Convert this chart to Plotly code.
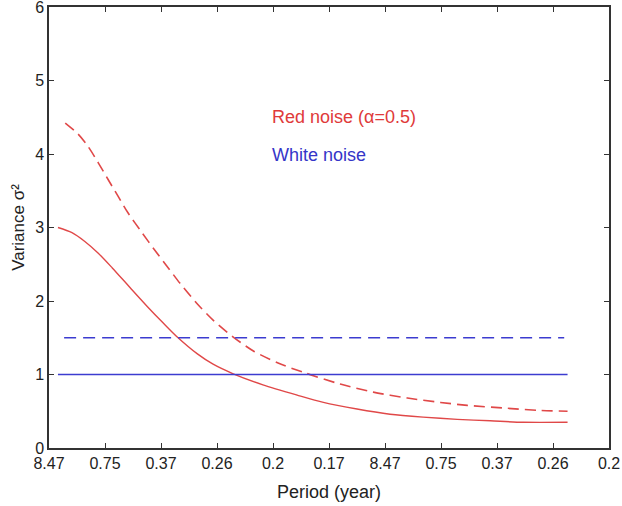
import plotly.graph_objects as go

# x positions are tick indices (0..10); tick labels are the period values
tick_pos = list(range(11))
tick_text = ["8.47", "0.75", "0.37", "0.26", "0.2", "0.17",
             "8.47", "0.75", "0.37", "0.26", "0.2"]

# red noise, solid curve
red_x = [0.16, 0.41, 0.64, 0.88, 1.13, 1.45, 1.75, 2.04, 2.29, 2.65, 2.93,
         3.29, 3.82, 4.43, 4.90, 5.50, 6.09, 6.68, 7.29, 7.88, 8.47, 9.26]
red_y = [3.00, 2.93, 2.81, 2.65, 2.45, 2.18, 1.93, 1.70, 1.51, 1.28, 1.14,
         1.01, 0.86, 0.72, 0.62, 0.53, 0.46, 0.42, 0.39, 0.37, 0.35, 0.35]

# red noise, dashed curve
red_dash_x = [0.29, 0.52, 0.70, 0.88, 1.05, 1.23, 1.41, 1.66, 1.89, 2.13, 2.34,
              2.65, 2.93, 3.29, 3.65, 4.08, 4.54, 5.20, 5.79, 6.40, 6.99,
              7.47, 8.19, 8.78, 9.26]
red_dash_y = [4.42, 4.27, 4.10, 3.88, 3.66, 3.43, 3.20, 2.93, 2.69, 2.45, 2.24,
              1.96, 1.74, 1.51, 1.32, 1.16, 1.03, 0.87, 0.76, 0.68, 0.62,
              0.58, 0.54, 0.51, 0.50]

# white noise levels
white_x = [0.16, 9.26]
white_y = [1.0, 1.0]
white_dash_x = [0.27, 9.20]
white_dash_y = [1.5, 1.5]

RED = "#e04848"
BLUE = "#3c3cd0"
AXIS = "#333333"

fig = go.Figure()
fig.add_trace(go.Scatter(x=red_dash_x, y=red_dash_y, mode="lines",
                         line=dict(color=RED, width=1.6, dash="11px,6px",
                                   shape="spline", smoothing=0.8)))
fig.add_trace(go.Scatter(x=red_x, y=red_y, mode="lines",
                         line=dict(color=RED, width=1.4,
                                   shape="spline", smoothing=0.8)))
fig.add_trace(go.Scatter(x=white_dash_x, y=white_dash_y, mode="lines",
                         line=dict(color=BLUE, width=1.6, dash="12px,7px")))
fig.add_trace(go.Scatter(x=white_x, y=white_y, mode="lines",
                         line=dict(color=BLUE, width=1.4)))

fig.add_annotation(x=3.95, y=4.5, text="Red noise (α=0.5)", showarrow=False,
                   xanchor="left", font=dict(color="#e03a3a", size=18))
fig.add_annotation(x=3.95, y=3.98, text="White noise", showarrow=False,
                   xanchor="left", font=dict(color="#3535c8", size=18))

fig.update_layout(
    width=622, height=506,
    margin=dict(l=49, r=13, t=7, b=58),
    plot_bgcolor="white", paper_bgcolor="white",
    showlegend=False,
    font=dict(family="Liberation Sans, Arial, sans-serif", color="#222222", size=16),
    xaxis=dict(range=[0, 10], tickvals=tick_pos, ticktext=tick_text,
               ticks="inside", ticklen=5, tickcolor=AXIS, showgrid=False,
               zeroline=False, showline=True, linecolor=AXIS, linewidth=1.5,
               mirror="ticks", tickfont=dict(size=16), automargin=False,
               ticklabeloverflow="allow",
               title=dict(text="Period (year)", font=dict(size=18), standoff=14)),
    yaxis=dict(range=[0, 6], dtick=1, ticks="inside", ticklen=5, tickcolor=AXIS,
               showgrid=False, zeroline=False, showline=True, linecolor=AXIS,
               linewidth=1.5, mirror="ticks", tickfont=dict(size=16), automargin=False,
               ticklabeloverflow="allow",
               title=dict(text="Variance σ²", font=dict(size=17), standoff=6)),
)

fig.write_html("out.html", config={"displayModeBar": False},
               post_script="document.body.style.margin='0';")
